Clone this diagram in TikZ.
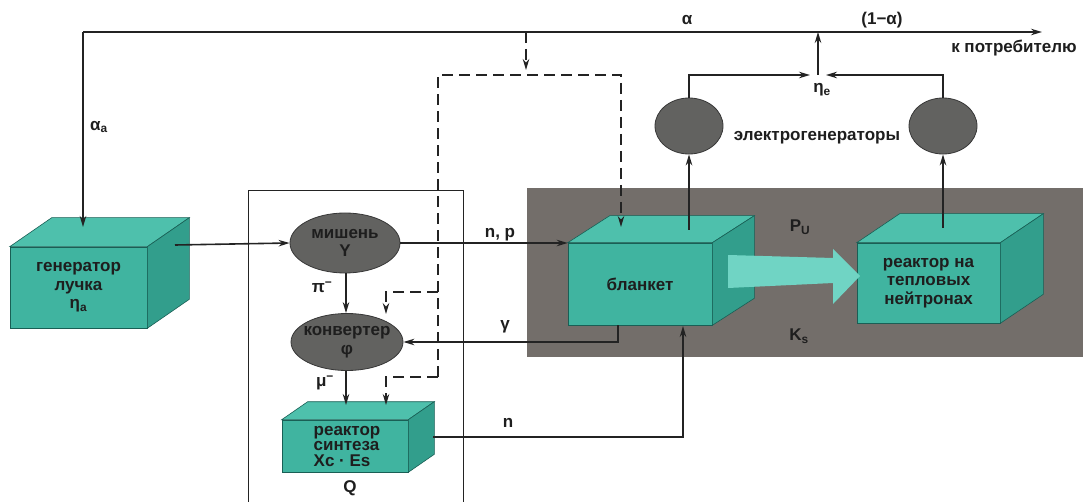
\documentclass[tikz,border=0pt]{standalone}
\usepackage{fontspec}
\setmainfont{Liberation Sans}
\usetikzlibrary{shapes.geometric,arrows.meta,calc}
\definecolor{lnc}{RGB}{35,35,35}
\definecolor{txt}{RGB}{30,30,30}
\definecolor{bandc}{RGB}{115,110,106}
\definecolor{frontc}{RGB}{64,180,160}
\definecolor{topc}{RGB}{78,192,172}
\definecolor{sidec}{RGB}{50,158,140}
\definecolor{edgec}{RGB}{25,95,85}
\definecolor{ellc}{RGB}{98,98,96}
\definecolor{ellb}{RGB}{55,55,55}
\definecolor{bigarr}{RGB}{112,212,196}
\newcommand\cubefaces[3]{%
  \filldraw[fill=topc,draw=edgec,line width=0.6pt] (#1.north west) -- ++(#2,#3) -- ($(#1.north east)+(#2,#3)$) -- (#1.north east) -- cycle;
  \filldraw[fill=sidec,draw=edgec,line width=0.6pt] (#1.north east) -- ($(#1.north east)+(#2,#3)$) -- ($(#1.south east)+(#2,#3)$) -- (#1.south east) -- cycle;}
\tikzset{
  ln/.style={line width=1.6pt, draw=lnc},
  arr/.style={ln, -{Stealth[length=11pt,width=6.5pt]}},
  dsh/.style={line width=1.2pt, draw=lnc, dash pattern=on 11pt off 6pt},
  darr/.style={dsh, -{Stealth[length=11pt,width=6.5pt]}},
  face/.style={rectangle, fill=frontc, draw=edgec, line width=0.6pt, inner sep=0pt, align=center, text=txt},
  ell/.style={ellipse, fill=ellc, draw=ellb, line width=0.8pt, inner sep=0pt},
  lbl/.style={text=txt, inner sep=0pt, align=center},
}
\begin{document}
\begin{tikzpicture}[x=1pt,y=-1pt,font=\fontsize{17}{18.5}\selectfont\bfseries]
\useasboundingbox (0,0) rectangle (1083,502);
\clip (0,0) rectangle (1083,502);
\fill[white] (0,0) rectangle (1083,502);
% gray band
\fill[bandc] (527,188) rectangle (1083,357);
% frame
\draw[lnc,line width=1pt] (248,191) rectangle (463,530);

% boxes
\node[face, minimum width=137pt, minimum height=81pt] (gen) at (78.5,287.5) {генератор\\лучка\\η\textsubscript{a}};
\cubefaces{gen}{42}{-29}
\node[face, minimum width=144pt, minimum height=82pt] (blk) at (640,284) {бланкет};
\cubefaces{blk}{42}{-27}
\node[face, minimum width=143pt, minimum height=80pt] (thr) at (928.5,283) {реактор на\\тепловых\\нейтронах};
\cubefaces{thr}{43}{-29}
\node[face, minimum width=126pt, minimum height=52pt] (syn) at (345,446) {};
\cubefaces{syn}{26}{-18}
\node[lbl, align=left, font=\fontsize{17}{15.5}\selectfont\bfseries] (syntxt) at (347,446) {реактор\\синтеза\\Xc · Es};

% big arrow blanket -> thermal reactor
\fill[bigarr] (728,255) -- (833,258) -- (833,249) -- (860,276) -- (833,304) -- (833,283) -- (728,288) -- cycle;

% ellipses
\node[ell, minimum width=110pt, minimum height=60pt] (mish) at (345,243) {};
\node[lbl] at (mish) {мишень\\Y};
\node[ell, minimum width=112pt, minimum height=57pt] (kon) at (347,342) {};
\node[lbl] at (kon) {конвертер\\φ};
\node[ell, minimum width=68pt, minimum height=56pt] (eg1) at (689,126) {};
\node[ell, minimum width=68pt, minimum height=56pt] (eg2) at (943,126) {};

% coordinates
\coordinate (tl) at (83,32);
\coordinate (tr) at (1042,32);
\coordinate (gtop) at (83,227);
\coordinate (jn) at (818,32);
\coordinate (jb) at (818,75);
\coordinate (gout) at (175,245);
\coordinate (syntop) at (346,405);
\coordinate (gB) at (618,325);
\coordinate (nS) at (433,437);
\coordinate (nE) at (683,437);
\coordinate (nT) at (683,326);
\coordinate (b1) at (689,230);
\coordinate (b2) at (943,228);
\coordinate (dtop) at (526,32);
\coordinate (dtip) at (526,70);
\coordinate (dA) at (438,75);
\coordinate (dB) at (621,75);
\coordinate (dblk) at (621,227);
\coordinate (d1) at (438,292);
\coordinate (d1b) at (386,292);
\coordinate (d1t) at (386,314);
\coordinate (d2) at (438,377);
\coordinate (d2b) at (386,377);
\coordinate (d2t) at (386,405);

% solid connectors
\draw[arr] (tl) -- (tr);
\draw[arr] (tl) -- (gtop);
\draw[arr] (gout) -- (mish.west);
\draw[arr] (mish.east) -- (mish.east -| blk.west);
\draw[arr] (mish.south -| 346,0) -- (kon.north -| 346,0);
\draw[arr] (kon.south -| 346,0) -- (syntop);
\draw[arr] (gB) |- (kon.east);
\draw[arr] (nS) -- (nE) -- (nT);
\draw[arr] (b1) -- (eg1.south);
\draw[arr] (b2) -- (eg2.south);
\draw[arr, shorten >=8pt] (eg1.north) |- (jb);
\draw[arr, shorten >=8pt] (eg2.north) |- (jb);
\draw[arr] (jb) -- (jn);

% dashed connectors
\draw[darr] (dtop) -- (dtip);
\draw[darr] (d2) -- (dA) -- (dB) -- (dblk);
\draw[darr] (d1) -- (d1b) -- (d1t);
\draw[darr] (d2) -- (d2b) -- (d2t);

% labels
\node[lbl, anchor=west] (la) at (90,127) {α\textsubscript{a}};
\node[lbl] (lal) at (687,20) {α};
\node[lbl] (l1a) at (882,20) {(1−α)};
\node[lbl] (lcons) at (1014,48) {к потребителю};
\node[lbl] (leta) at (822,90) {η\textsubscript{e}};
\node[lbl] (leg) at (817,138) {электрогенераторы};
\node[lbl] (lpu) at (800,227) {P\textsubscript{U}};
\node[lbl] (lks) at (799,336) {K\textsubscript{s}};
\node[lbl] (lnp) at (500,235) {n, p};
\node[lbl] (lpi) at (322,287) {π\textsuperscript{−}};
\node[lbl] (lmu) at (325,383) {μ\textsuperscript{−}};
\node[lbl] (lga) at (505,327) {γ};
\node[lbl] (ln) at (508,423) {n};
\node[lbl] (lq) at (350,488) {Q};
\end{tikzpicture}
\end{document}
